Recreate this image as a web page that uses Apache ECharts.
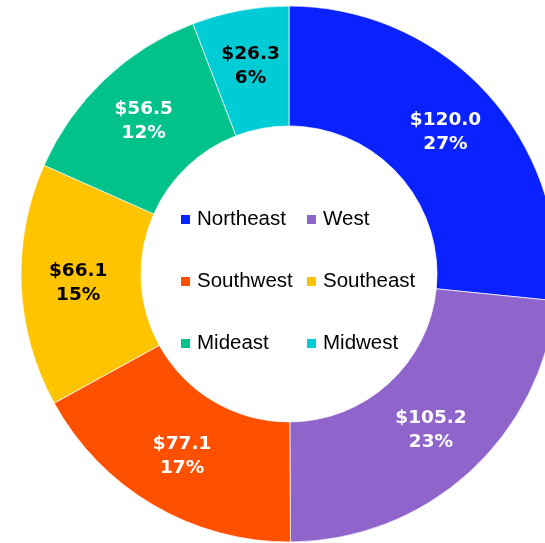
<!DOCTYPE html>
<html>
<head>
<meta charset="utf-8">
<script src="https://cdn.jsdelivr.net/npm/echarts@6/dist/echarts.min.js"></script>
<style>
  html, body { margin: 0; padding: 0; background: #fff; }
  #chart { width: 545px; height: 543px; }
</style>
</head>
<body>
<div id="chart"></div>
<script>
// data
const regions = ['Northeast', 'West', 'Southwest', 'Southeast', 'Mideast', 'Midwest'];
const amounts = [120.0, 105.2, 77.1, 66.1, 56.5, 26.3];
const shares = ['27%', '23%', '17%', '15%', '12%', '6%'];
const colors = ['#0A22FF', '#9065CB', '#FF5000', '#FFC400', '#00C28A', '#00CCD6'];
const darkLabel = ['Southeast', 'Midwest'];

const chart = echarts.init(document.getElementById('chart'));

const legendBase = {
  orient: 'vertical',
  top: 204,
  itemWidth: 11,
  itemHeight: 11,
  itemGap: 41,
  icon: 'rect',
  textStyle: { fontFamily: 'Liberation Sans', fontSize: 20.5, color: '#000', padding: [0, 0, 0, 1] },
  selectedMode: false
};

const option = {
  color: colors,
  legend: [
    Object.assign({}, legendBase, { left: 174, data: ['Northeast', 'Southwest', 'Mideast'] }),
    Object.assign({}, legendBase, { left: 300, data: ['West', 'Southeast', 'Midwest'] })
  ],
  series: [{
    type: 'pie',
    center: [289, 274],
    radius: [148, 268],
    startAngle: 90,
    clockwise: true,
    animation: false,
    itemStyle: { borderColor: '#fff', borderWidth: 0.7 },
    label: {
      show: true,
      position: 'inside',
      fontFamily: 'DejaVu Sans',
      fontWeight: 'bold',
      fontSize: 18.5,
      lineHeight: 24,
      formatter: p => '$' + amounts[p.dataIndex].toFixed(1) + '\n' + shares[p.dataIndex]
    },
    labelLine: { show: false },
    emphasis: { disabled: true },
    data: regions.map((name, i) => ({
      name: name,
      value: amounts[i],
      label: { color: darkLabel.includes(name) ? '#000' : '#fff' }
    }))
  }]
};

chart.setOption(option);
</script>
</body>
</html>
